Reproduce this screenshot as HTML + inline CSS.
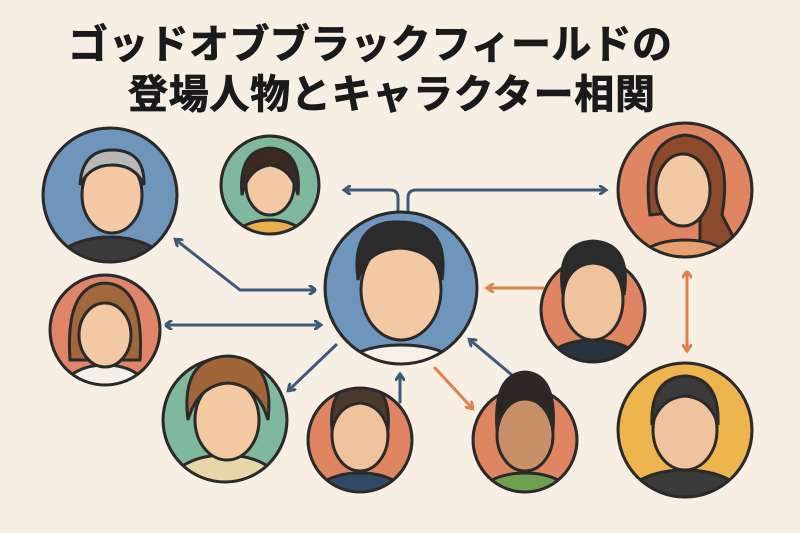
<!DOCTYPE html>
<html><head><meta charset="utf-8"><style>
html,body{margin:0;padding:0;background:#f7efe4;}
svg{display:block}
</style></head><body>
<svg width="800" height="533" viewBox="0 0 800 533" xmlns="http://www.w3.org/2000/svg">
<defs>
<marker id="ab" markerWidth="10" markerHeight="10" refX="6" refY="5" orient="auto" markerUnits="userSpaceOnUse"><path d="M0,0 L7,5 L0,10" fill="none" stroke="#3d5a78" stroke-width="3"/></marker>
<marker id="ao" markerWidth="10" markerHeight="10" refX="6" refY="5" orient="auto" markerUnits="userSpaceOnUse"><path d="M0,0 L7,5 L0,10" fill="none" stroke="#e0804a" stroke-width="3"/></marker>
<marker id="abs" markerWidth="10" markerHeight="10" refX="1" refY="5" orient="auto" markerUnits="userSpaceOnUse"><path d="M7,0 L0,5 L7,10" fill="none" stroke="#3d5a78" stroke-width="3"/></marker>
<marker id="aos" markerWidth="10" markerHeight="10" refX="1" refY="5" orient="auto" markerUnits="userSpaceOnUse"><path d="M7,0 L0,5 L7,10" fill="none" stroke="#e0804a" stroke-width="3"/></marker>
<clipPath id="c1"><circle cx="110" cy="195" r="67"/></clipPath>
<clipPath id="c2"><circle cx="270" cy="185" r="49"/></clipPath>
<clipPath id="c3"><circle cx="401" cy="288" r="76"/></clipPath>
<clipPath id="c4"><circle cx="685" cy="190" r="67"/></clipPath>
<clipPath id="c5"><circle cx="593" cy="310" r="52"/></clipPath>
<clipPath id="c6"><circle cx="105" cy="330" r="55"/></clipPath>
<clipPath id="c7"><circle cx="225" cy="420" r="62"/></clipPath>
<clipPath id="c8"><circle cx="360" cy="440" r="52"/></clipPath>
<clipPath id="c9"><circle cx="525" cy="440" r="52"/></clipPath>
<clipPath id="c10"><circle cx="685" cy="430" r="67"/></clipPath>
</defs>
<rect width="800" height="533" fill="#f7efe4"/>
<g font-family="'Liberation Sans','Noto Sans CJK JP',sans-serif" font-weight="bold" font-size="40" fill="#1a1a1a" stroke="#1a1a1a" stroke-width="0.8">
<text x="68" y="58" textLength="604">ゴッドオブブラックフィールドの</text>
<text x="128" y="108" textLength="527">登場人物とキャラクター相関</text>
</g>

<g fill="none" stroke-width="3" stroke-linecap="round">
<path d="M398,212 V198 Q398,190 390,190 H345" stroke="#3d5a78" marker-end="url(#ab)"/>
<path d="M408,212 V198 Q408,190 416,190 H605" stroke="#3d5a78" marker-end="url(#ab)"/>
<path d="M315,290 H240 L176,240" stroke="#3d5a78" marker-start="url(#abs)" marker-end="url(#ab)"/>
<path d="M166,325 H320" stroke="#3d5a78" marker-start="url(#abs)" marker-end="url(#ab)"/>
<path d="M336,345 L289,390" stroke="#3d5a78" marker-end="url(#ab)"/>
<path d="M400,402 V375" stroke="#3d5a78" marker-end="url(#ab)"/>
<path d="M512,375 L470,340" stroke="#3d5a78" marker-end="url(#ab)"/>
<path d="M435,368 L472,408" stroke="#e0804a" marker-end="url(#ao)"/>
<path d="M543,288 H488" stroke="#e0804a" marker-end="url(#ao)"/>
<path d="M687,272 V350" stroke="#e0804a" marker-start="url(#aos)" marker-end="url(#ao)"/>
</g>

<g stroke="#2a2a2a" stroke-width="3">
<g clip-path="url(#c1)"><circle cx="110" cy="195" r="67" fill="#6f95ba"/>
<ellipse cx="110" cy="275" rx="62" ry="38" fill="#3a3a3a"/>
<ellipse cx="112" cy="195" rx="30" ry="38" fill="#f3c9a4"/>
<path d="M80,185 Q82,150 112,150 Q145,150 144,185 Q135,165 112,165 Q90,165 80,185Z" fill="#b8b8b8"/></g>
<circle cx="110" cy="195" r="67" fill="none"/>

<g clip-path="url(#c2)"><circle cx="270" cy="185" r="49" fill="#7fb89d"/>
<ellipse cx="270" cy="245" rx="40" ry="25" fill="#e8b04c"/>
<ellipse cx="270" cy="185" rx="24" ry="30" fill="#f3c9a4"/>
<path d="M242,195 Q238,150 270,148 Q302,150 298,195 Q292,168 270,165 Q248,168 242,195Z" fill="#3a2a22"/></g>
<circle cx="270" cy="185" r="49" fill="none"/>

<g clip-path="url(#c3)"><circle cx="401" cy="288" r="76" fill="#6e96bd"/>
<ellipse cx="401" cy="375" rx="65" ry="30" fill="#f5f0e8"/>
<ellipse cx="401" cy="290" rx="40" ry="50" fill="#f3c9a4"/>
<path d="M358,280 Q350,220 400,222 Q450,222 442,280 Q435,250 400,248 Q365,250 358,280Z" fill="#2b2b2b"/></g>
<circle cx="401" cy="288" r="76" fill="none"/>

<g clip-path="url(#c4)"><circle cx="685" cy="190" r="67" fill="#e08562"/>
<path d="M650,215 Q640,140 685,135 Q735,140 722,215 L740,250 L700,255 L700,210 Z" fill="#8c4a2c"/>
<ellipse cx="685" cy="265" rx="50" ry="25" fill="#e8a070"/>
<ellipse cx="683" cy="190" rx="27" ry="36" fill="#f3c9a4"/></g>
<circle cx="685" cy="190" r="67" fill="none"/>

<g clip-path="url(#c5)"><circle cx="593" cy="310" r="52" fill="#e08562"/>
<ellipse cx="593" cy="370" rx="52" ry="30" fill="#2a3340"/>
<ellipse cx="593" cy="300" rx="30" ry="40" fill="#f0c39c"/></g>
<circle cx="593" cy="310" r="52" fill="none"/>
<path d="M563,295 Q555,243 593,241 Q632,243 624,295 Q620,265 593,263 Q567,265 563,295Z" fill="#2b2b2b"/>

<g clip-path="url(#c6)"><circle cx="105" cy="330" r="55" fill="#e0856a"/>
<path d="M70,360 Q65,285 105,283 Q145,285 140,360Z" fill="#a0683c"/>
<ellipse cx="105" cy="390" rx="42" ry="25" fill="#f5f0e8"/>
<ellipse cx="105" cy="335" rx="26" ry="32" fill="#f3c9a4"/></g>
<circle cx="105" cy="330" r="55" fill="none"/>

<g clip-path="url(#c7)"><circle cx="225" cy="420" r="62" fill="#7fb89d"/>
<ellipse cx="225" cy="485" rx="55" ry="30" fill="#e6d6a8"/>
<ellipse cx="227" cy="420" rx="32" ry="40" fill="#f3c9a4"/></g>
<circle cx="225" cy="420" r="62" fill="none"/>
<path d="M188,420 Q180,358 228,356 Q275,358 268,420 Q258,385 228,383 Q198,385 188,420Z" fill="#a0663a"/>

<g clip-path="url(#c8)"><circle cx="360" cy="440" r="52" fill="#e08562"/>
<ellipse cx="360" cy="495" rx="45" ry="22" fill="#2f4a66"/>
<ellipse cx="360" cy="435" rx="28" ry="36" fill="#f0c39c"/>
<path d="M332,430 Q328,385 360,383 Q392,385 388,430 Q382,405 360,403 Q338,405 332,430Z" fill="#4a3a2e"/></g>
<circle cx="360" cy="440" r="52" fill="none"/>

<g clip-path="url(#c9)"><circle cx="525" cy="440" r="52" fill="#e08562"/>
<ellipse cx="525" cy="495" rx="45" ry="22" fill="#6fa050"/>
<ellipse cx="525" cy="435" rx="28" ry="36" fill="#c89068"/></g>
<circle cx="525" cy="440" r="52" fill="none"/>
<path d="M497,430 Q493,374 525,372 Q557,374 553,430 Q547,400 525,398 Q503,400 497,430Z" fill="#2e2622"/>

<g clip-path="url(#c10)"><circle cx="685" cy="430" r="67" fill="#eeb54e"/>
<ellipse cx="685" cy="500" rx="60" ry="30" fill="#3a3a3a"/>
<ellipse cx="685" cy="430" rx="32" ry="40" fill="#f0c39c"/>
<path d="M652,425 Q650,378 685,376 Q720,378 718,425 Q710,398 685,396 Q660,398 652,425Z" fill="#3a3a3a"/></g>
<circle cx="685" cy="430" r="67" fill="none"/>
</g>
</svg>
</body></html>
